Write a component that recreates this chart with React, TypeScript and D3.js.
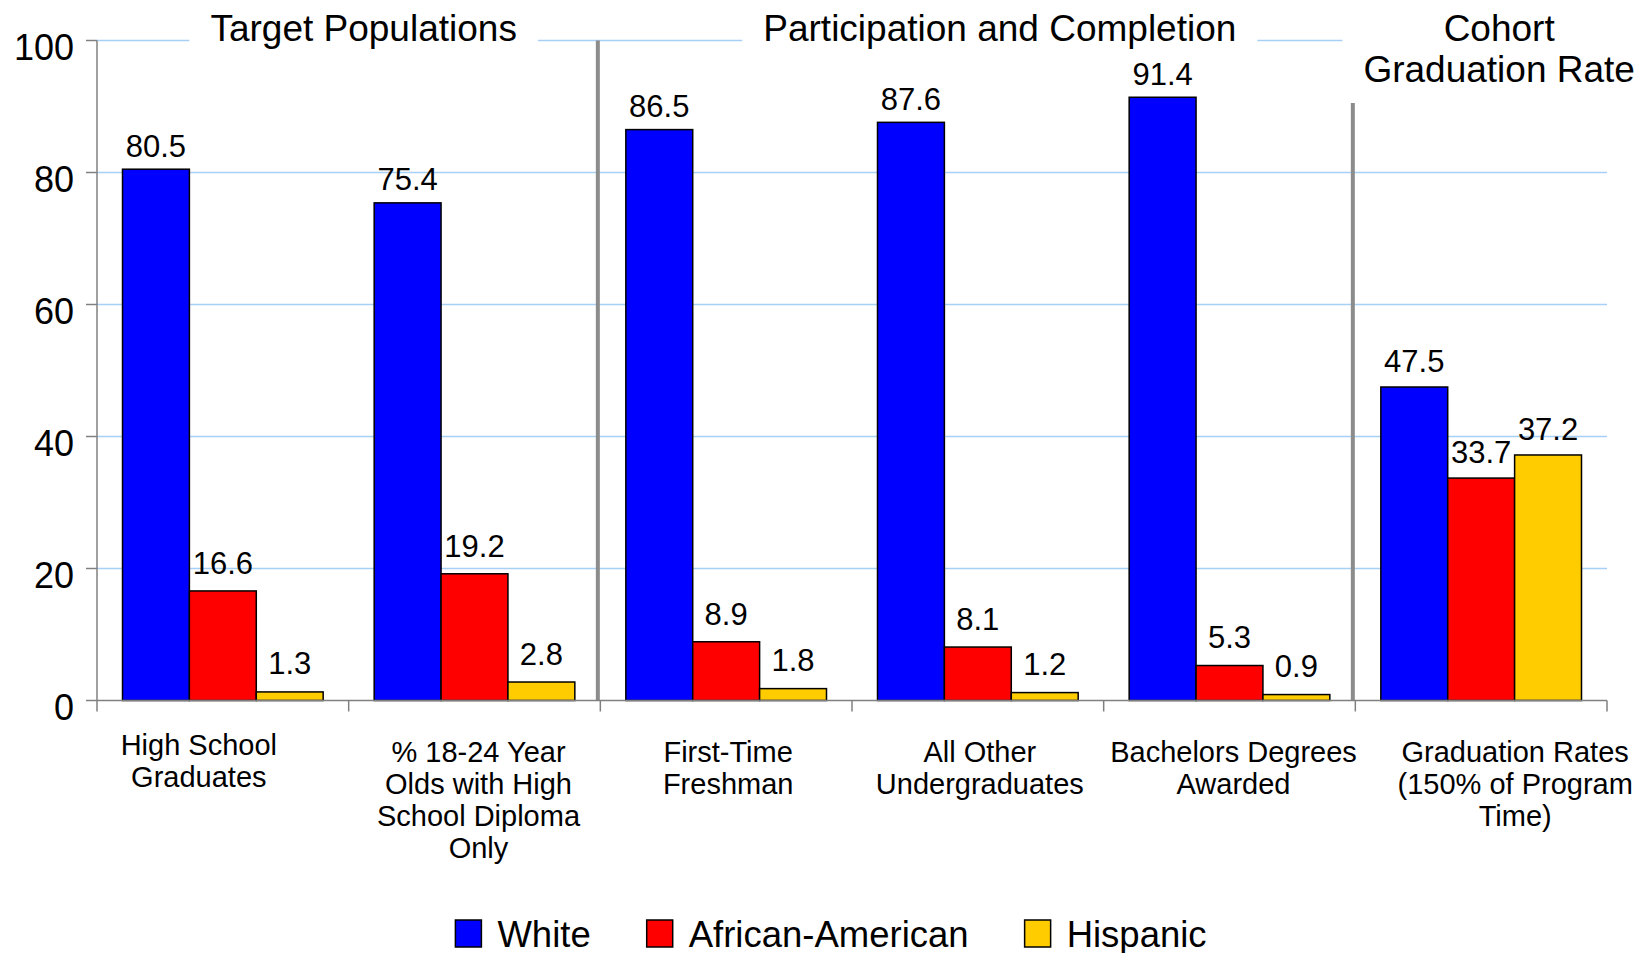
import React, { useEffect, useRef } from 'react';
import * as d3 from 'd3';

// chart values
const categoryLines = [
  ['High School', 'Graduates'],
  ['% 18-24 Year', 'Olds with High', 'School Diploma', 'Only'],
  ['First-Time', 'Freshman'],
  ['All Other', 'Undergraduates'],
  ['Bachelors Degrees', 'Awarded'],
  ['Graduation Rates', '(150% of Program', 'Time)'],
];
const seriesNames = ['White', 'African-American', 'Hispanic'];
const white = [80.5, 75.4, 86.5, 87.6, 91.4, 47.5];
const africanAmerican = [16.6, 19.2, 8.9, 8.1, 5.3, 33.7];
const hispanic = [1.3, 2.8, 1.8, 1.2, 0.9, 37.2];
const yTicks = [0, 20, 40, 60, 80, 100];
const sectionTitles = [
  { lines: ['Target Populations'], from: 0, to: 2 },
  { lines: ['Participation and Completion'], from: 2, to: 5 },
  { lines: ['Cohort', 'Graduation Rate'], from: 5, to: 6 },
];

const colors = ['#0000ff', '#ff0000', '#ffcc00'];
const FONT = '"Liberation Sans", Arial, sans-serif';

const App = () => {
  const ref = useRef<SVGSVGElement>(null);

  useEffect(() => {
    const svg = d3.select(ref.current);
    svg.selectAll('*').remove();

    const W = 1650;
    const left = 97, right = 1607, top = 40.5, bottom = 700.5;

    const x = d3.scaleBand<number>().domain(d3.range(categoryLines.length)).range([left, right]);
    const bw = x.bandwidth();
    const xs = d3.scaleBand<string>().domain(seriesNames).range([25.5, bw - 25.5]);
    const y = d3.scaleLinear().domain([0, 100]).range([bottom, top]);
    const yLabel = d3.scaleLinear().domain([0, 100]).range([683, 29]);

    const series = [white, africanAmerican, hispanic];
    const rows = series.flatMap((vals, s) =>
      vals.map((v, i) => ({ i, s, v, name: seriesNames[s] }))
    );

    // gridlines
    svg.append('g')
      .selectAll('line')
      .data(yTicks.filter((t) => t > 0))
      .enter().append('line')
      .attr('x1', left).attr('x2', right)
      .attr('y1', (d) => y(d)).attr('y2', (d) => y(d))
      .attr('stroke', '#a8d0f5').attr('stroke-width', 1.5);

    // section separators
    svg.append('line')
      .attr('x1', x(2)! - 2.5).attr('x2', x(2)! - 2.5)
      .attr('y1', y(100)).attr('y2', bottom)
      .attr('stroke', '#8c8c8c').attr('stroke-width', 4);
    svg.append('line')
      .attr('x1', x(5)! - 2.5).attr('x2', x(5)! - 2.5)
      .attr('y1', 103).attr('y2', bottom)
      .attr('stroke', '#8c8c8c').attr('stroke-width', 4);

    // section titles with white boxes hiding the top gridline
    const titleShift = [15, 22, 18];
    sectionTitles.forEach((t, k) => {
      const cx = (x(t.from)! + x(t.to - 1)! + bw) / 2 + titleShift[k];
      const g = svg.append('g');
      const box = g.append('rect').attr('fill', '#fff');
      const txt = g.append('text')
        .attr('x', cx).attr('y', 40.5)
        .attr('text-anchor', 'middle')
        .style('font-family', FONT).style('font-size', '37px').style('fill', '#000');
      t.lines.forEach((ln, j) => {
        txt.append('tspan').attr('x', cx).attr('dy', j === 0 ? 0 : 41.5).text(ln);
      });
      const bb = (txt.node() as SVGTextElement).getBBox();
      box.attr('x', bb.x - 21).attr('y', bb.y).attr('width', bb.width + 42).attr('height', bb.height);
      if (k === 2) box.attr('width', W - (bb.x - 21));
    });

    // bars
    svg.append('g')
      .selectAll('rect')
      .data(rows)
      .enter().append('rect')
      .attr('x', (d) => x(d.i)! + xs(d.name)!)
      .attr('y', (d) => y(d.v))
      .attr('width', xs.bandwidth())
      .attr('height', (d) => bottom - y(d.v))
      .attr('fill', (d) => colors[d.s])
      .attr('stroke', '#000').attr('stroke-width', 1.5);

    // value labels
    svg.append('g')
      .selectAll('text')
      .data(rows)
      .enter().append('text')
      .attr('x', (d) => x(d.i)! + xs(d.name)! + xs.bandwidth() / 2)
      .attr('y', (d) => yLabel(d.v))
      .attr('text-anchor', 'middle')
      .text((d) => d.v.toFixed(1))
      .style('font-family', FONT).style('font-size', '31px').style('fill', '#000');

    // y axis
    svg.append('line')
      .attr('x1', left).attr('x2', left).attr('y1', top).attr('y2', bottom)
      .attr('stroke', '#808080').attr('stroke-width', 1.5);
    const yt = svg.append('g').selectAll('g').data(yTicks).enter().append('g');
    yt.append('line')
      .attr('x1', left - 11).attr('x2', left)
      .attr('y1', (d) => y(d)).attr('y2', (d) => y(d))
      .attr('stroke', '#808080').attr('stroke-width', 1.5);
    yt.append('text')
      .attr('x', 74).attr('y', (d) => y(d) + 19)
      .attr('text-anchor', 'end')
      .text((d) => d)
      .style('font-family', FONT).style('font-size', '36px').style('fill', '#000');

    // x axis
    svg.append('line')
      .attr('x1', left).attr('x2', right).attr('y1', bottom).attr('y2', bottom)
      .attr('stroke', '#808080').attr('stroke-width', 1.5);
    svg.append('g')
      .selectAll('line')
      .data(d3.range(categoryLines.length + 1))
      .enter().append('line')
      .attr('x1', (d) => left + d * bw).attr('x2', (d) => left + d * bw)
      .attr('y1', bottom).attr('y2', bottom + 11)
      .attr('stroke', '#808080').attr('stroke-width', 1.5);

    // category labels
    const labelShift = [-24, 4, 2, 2, 4, 34];
    const labelTop = [755, 762, 762, 762, 762, 762];
    categoryLines.forEach((lines, i) => {
      const cx = x(i)! + bw / 2 + labelShift[i];
      const txt = svg.append('text')
        .attr('x', cx).attr('y', labelTop[i])
        .attr('text-anchor', 'middle')
        .style('font-family', FONT).style('font-size', '29px').style('fill', '#000');
      lines.forEach((ln, j) => {
        txt.append('tspan').attr('x', cx).attr('dy', j === 0 ? 0 : 32).text(ln);
      });
    });

    // legend
    const lg = svg.append('g');
    let lx = 0;
    seriesNames.forEach((name, s) => {
      lg.append('rect')
        .attr('x', lx).attr('y', 920)
        .attr('width', 26).attr('height', 27)
        .attr('fill', colors[s]).attr('stroke', '#000').attr('stroke-width', 1.5);
      const t = lg.append('text')
        .attr('x', lx + 42).attr('y', 946.5)
        .text(name)
        .style('font-family', FONT).style('font-size', '36.5px').style('fill', '#000');
      const w = (t.node() as SVGTextElement).getComputedTextLength();
      lx += 42 + w + (s < seriesNames.length - 1 ? 56 : 0);
    });
    lg.attr('transform', `translate(${831 - lx / 2},0)`);
  }, []);

  return (
    <svg
      ref={ref}
      width={1650}
      height={953}
      style={{ position: 'absolute', left: 0, top: 0, background: '#fff' }}
    ></svg>
  );
};

export default App;
